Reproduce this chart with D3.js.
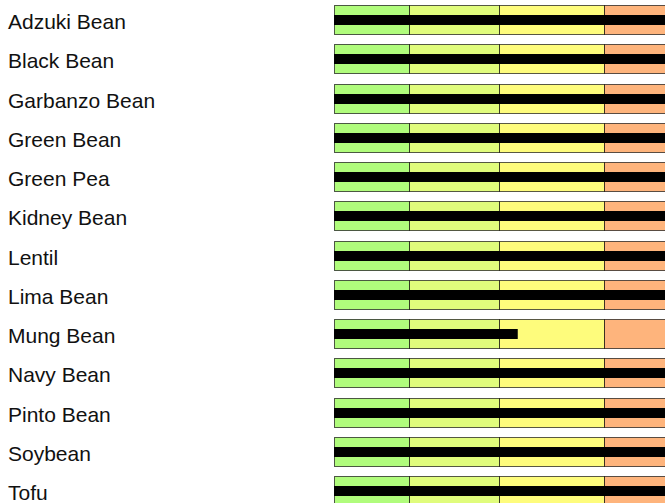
<!DOCTYPE html>
<html>
<head>
<meta charset="utf-8">
<script src="https://cdn.jsdelivr.net/npm/d3@7"></script>
<style>
  html, body { margin: 0; padding: 0; background: #fff; }
  svg { display: block; }
</style>
</head>
<body>
<svg id="chart" width="665" height="503"></svg>
<script>
// Legume rows, qualitative band thresholds and measured values
const categories = ["Adzuki Bean", "Black Bean", "Garbanzo Bean", "Green Bean", "Green Pea",
  "Kidney Bean", "Lentil", "Lima Bean", "Mung Bean", "Navy Bean", "Pinto Bean", "Soybean", "Tofu"];
const values = [50, 50, 50, 50, 50, 50, 50, 50, 24.5, 50, 50, 50, 50];
const bandEdges = [0, 10, 22, 36, 60];
const bandColors = ["#b0fc7c", "#e0fc7c", "#fefc7c", "#feb47c"];

const svg = d3.select("#chart");
const W = 665, H = 503;

const x = d3.scaleLinear().domain([0, 44]).range([334, 664]);
const y = d3.scaleBand().domain(categories).range([0, 510.25])
  .paddingInner(0.26).paddingOuter(0.13);

const clip = svg.append("defs").append("clipPath").attr("id", "plotClip");
clip.append("rect").attr("x", 0).attr("y", 0).attr("width", W).attr("height", H);

const rows = svg.append("g").attr("clip-path", "url(#plotClip)")
  .selectAll("g.row").data(categories).join("g")
  .attr("class", "row")
  .attr("transform", d => `translate(0,${Math.round(y(d))})`);

const bh = Math.round(y.bandwidth());

// Qualitative bands
rows.selectAll("rect.band")
  .data(() => bandColors.map((c, i) => ({ c, a: bandEdges[i], b: bandEdges[i + 1] })))
  .join("rect")
  .attr("class", "band")
  .attr("x", d => Math.round(x(d.a)) + 0.5)
  .attr("y", 0.5)
  .attr("width", d => Math.round(x(d.b)) - Math.round(x(d.a)))
  .attr("height", bh)
  .attr("fill", d => d.c)
  .attr("stroke", "#000")
  .attr("stroke-opacity", 0.65)
  .attr("stroke-width", 1);

// Measure bars
rows.append("rect")
  .attr("class", "measure")
  .attr("x", x(0))
  .attr("y", (bh - 10) / 2 + 0.5)
  .attr("width", (d, i) => x(values[i]) - x(0))
  .attr("height", 10)
  .attr("fill", "#000");

// Row labels
rows.append("text")
  .attr("x", 8)
  .attr("y", bh / 2 + 9.5)
  .attr("font-family", "Liberation Sans, Arial, sans-serif")
  .attr("font-size", 21)
  .attr("fill", "#111")
  .text(d => d);
</script>
</body>
</html>
